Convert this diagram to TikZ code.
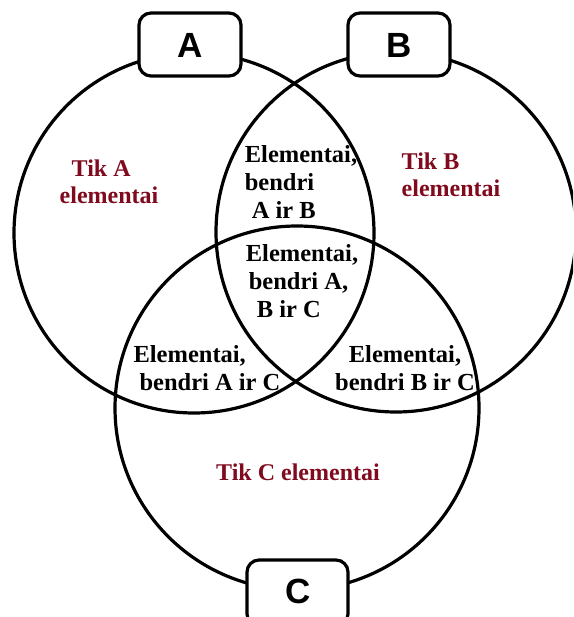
\documentclass[tikz,border=0pt]{standalone}
\usepackage{fontspec}
\setmainfont{Liberation Serif}
\newfontfamily\boxletter{Liberation Sans}
\definecolor{setred}{RGB}{128,10,30}
\begin{document}
\begin{tikzpicture}[x=1pt,y=-1pt,
  ring/.style={draw=black,line width=3.2pt},
  tag/.style={draw=black,line width=3.2pt,fill=white,rounded corners=12pt},
  tagtext/.style={font=\boxletter\fontsize{35}{35}\selectfont\bfseries},
  solo/.style={text=setred,inner sep=0pt,align=left,font=\fontsize{24}{27}\selectfont\bfseries},
  shared/.style={text=black,inner sep=0pt,align=left,font=\fontsize{24.5}{28}\selectfont\bfseries}]
\useasboundingbox (0,0) rectangle (573,617);
\clip (0,0) rectangle (573,617);
\fill[white] (0,0) rectangle (573,617);

% the three sets
\draw[ring] (194,233) circle (180);
\draw[ring] (396,232) circle (180);
\draw[ring] (297,408) circle (182);

% set name tags
\draw[tag] (139,13) rectangle (241,76);
\node[tagtext] (tagA) at (190,45) {A};
\draw[tag] (348,13) rectangle (450,76);
\node[tagtext] (tagB) at (399,45) {B};
\draw[tag] (247,560) rectangle (348,626);
\node[tagtext] (tagC) at (298,591) {C};

% region labels
\node[solo] (onlyA) at (109,182) {\hspace*{12pt}Tik A\\elementai};
\node[solo] (onlyB) at (451,175) {Tik B\\elementai};
\node[solo] (onlyC) at (298,472) {Tik C elementai};
\node[shared] (AB) at (301,182) {Elementai,\\bendri\\\hspace*{7pt}A ir B};
\node[shared] (ABC) at (302,281) {Elementai,\\\hspace*{3pt}bendri A,\\\hspace*{11pt}B ir C};
\node[shared] (AC) at (207,368) {Elementai,\\\hspace*{6pt}bendri A ir C};
\node[shared,align=center] (BC) at (405,368) {Elementai,\\bendri B ir C};
\end{tikzpicture}
\end{document}
